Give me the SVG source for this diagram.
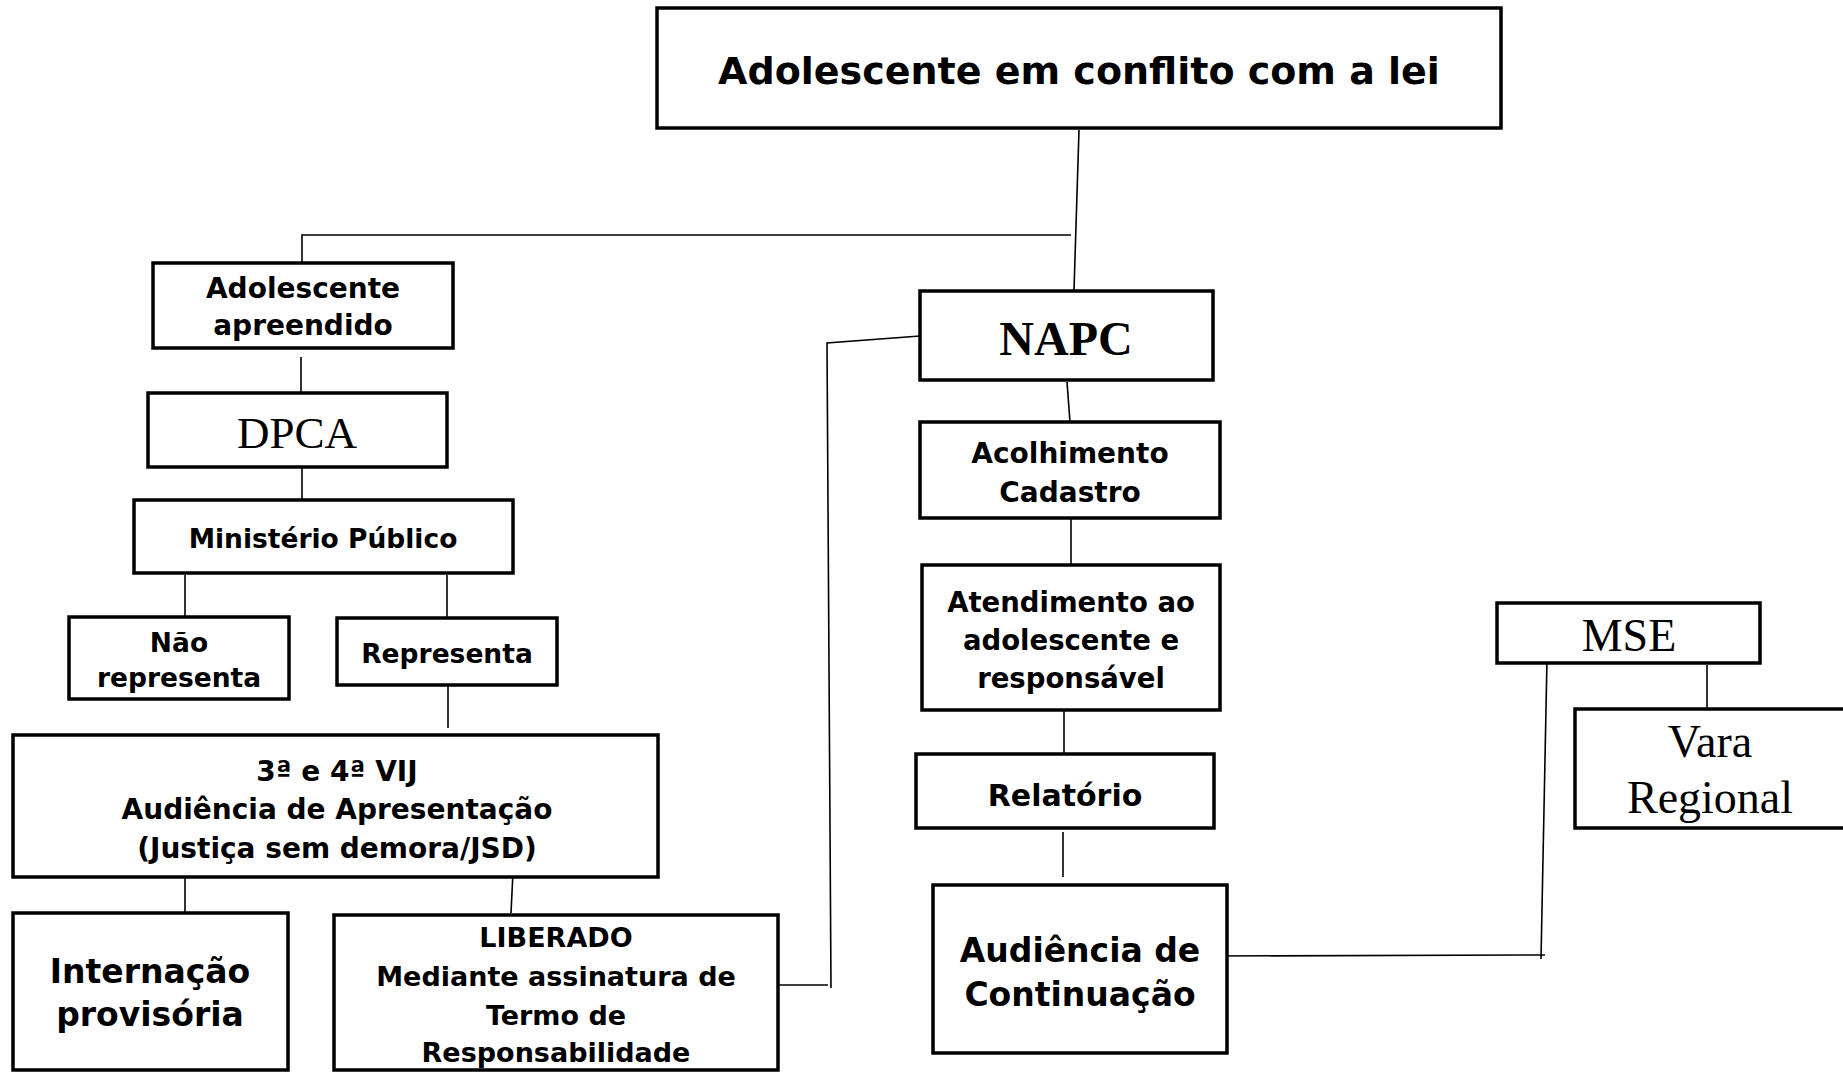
<svg xmlns="http://www.w3.org/2000/svg" width="1843" height="1074" viewBox="0 0 1843 1074">
<style>
.box{fill:#fff;stroke:#000;stroke-width:3.5}
.sans{font-family:"DejaVu Sans","Liberation Sans",sans-serif;font-weight:bold;text-anchor:middle;fill:#000}
.serif{font-family:"Liberation Serif","DejaVu Serif",serif;text-anchor:middle;fill:#000}
.conn{fill:none;stroke:#000;stroke-width:1.6}
</style>
<rect width="1843" height="1074" fill="#fff"/>
<g id="connectors">
<polyline class="conn" points="1079,130 1074,290"/>
<polyline class="conn" points="1071,235 302,235 302,262"/>
<polyline class="conn" points="301,357 301,392"/>
<polyline class="conn" points="302,455 302,499"/>
<polyline class="conn" points="185,575 185,617"/>
<polyline class="conn" points="447,575 447,617"/>
<polyline class="conn" points="448,686 448,728"/>
<polyline class="conn" points="185,872 185,913"/>
<polyline class="conn" points="513,872 511,913"/>
<polyline class="conn" points="920,336 827,343 831,988"/>
<polyline class="conn" points="778,985 828,985"/>
<polyline class="conn" points="1067,382 1070,422"/>
<polyline class="conn" points="1071,518 1071,565"/>
<polyline class="conn" points="1064,710 1064,753"/>
<polyline class="conn" points="1063,832 1063,877"/>
<polyline class="conn" points="1212,956 1545,955"/>
<polyline class="conn" points="1547,659 1541,959"/>
<polyline class="conn" points="1707,665 1707,708"/>
</g>
<g id="n-top"><rect class="box" x="657" y="8" width="844" height="120"/><text class="sans" x="1079" y="84" font-size="38">Adolescente em conflito com a lei</text></g>
<g id="n-apreendido"><rect class="box" x="153" y="263" width="300" height="85"/><text class="sans" x="303" y="298" font-size="28">Adolescente</text><text class="sans" x="303" y="335" font-size="28">apreendido</text></g>
<g id="n-dpca"><rect class="box" x="148" y="393" width="299" height="74"/><text class="serif" x="297" y="448" font-size="45">DPCA</text></g>
<g id="n-mp"><rect class="box" x="134" y="500" width="379" height="73"/><text class="sans" x="323" y="548" font-size="26.5">Ministério Público</text></g>
<g id="n-nao"><rect class="box" x="69" y="617" width="220" height="82"/><text class="sans" x="179" y="652" font-size="26.5">Não</text><text class="sans" x="179" y="687" font-size="26.5">representa</text></g>
<g id="n-rep"><rect class="box" x="337" y="618" width="220" height="67"/><text class="sans" x="447" y="663" font-size="26.5">Representa</text></g>
<g id="n-vij"><rect class="box" x="13" y="735" width="645" height="142"/><text class="sans" x="337" y="781" font-size="28">3ª e 4ª VIJ</text><text class="sans" x="337" y="819" font-size="28">Audiência de Apresentação</text><text class="sans" x="337" y="858" font-size="28">(Justiça sem demora/JSD)</text></g>
<g id="n-intern"><rect class="box" x="13" y="913" width="275" height="157"/><text class="sans" x="150" y="983" font-size="33">Internação</text><text class="sans" x="150" y="1026" font-size="33">provisória</text></g>
<g id="n-liberado"><rect class="box" x="334" y="915" width="444" height="155"/><text class="sans" x="556" y="947" font-size="27">LIBERADO</text><text class="sans" x="556" y="986" font-size="27">Mediante assinatura de</text><text class="sans" x="556" y="1025" font-size="27">Termo de</text><text class="sans" x="556" y="1062" font-size="27">Responsabilidade</text></g>
<g id="n-napc"><rect class="box" x="920" y="291" width="293" height="89"/><text class="serif" x="1066" y="355" font-size="48" font-weight="bold">NAPC</text></g>
<g id="n-acol"><rect class="box" x="920" y="422" width="300" height="96"/><text class="sans" x="1070" y="463" font-size="28">Acolhimento</text><text class="sans" x="1070" y="502" font-size="28">Cadastro</text></g>
<g id="n-atend"><rect class="box" x="922" y="565" width="298" height="145"/><text class="sans" x="1071" y="612" font-size="27.5">Atendimento ao</text><text class="sans" x="1071" y="650" font-size="27.5">adolescente e</text><text class="sans" x="1071" y="688" font-size="27.5">responsável</text></g>
<g id="n-rel"><rect class="box" x="916" y="754" width="298" height="74"/><text class="sans" x="1065" y="806" font-size="30">Relatório</text></g>
<g id="n-audc"><rect class="box" x="933" y="885" width="294" height="168"/><text class="sans" x="1080" y="962" font-size="33">Audiência de</text><text class="sans" x="1080" y="1006" font-size="33">Continuação</text></g>
<g id="n-mse"><rect class="box" x="1497" y="603" width="263" height="60"/><text class="serif" x="1629" y="651" font-size="46">MSE</text></g>
<g id="n-vara"><rect class="box" x="1575" y="709" width="280" height="119"/><text class="serif" x="1710" y="757" font-size="46">Vara</text><text class="serif" x="1710" y="813" font-size="46">Regional</text></g>
</svg>
